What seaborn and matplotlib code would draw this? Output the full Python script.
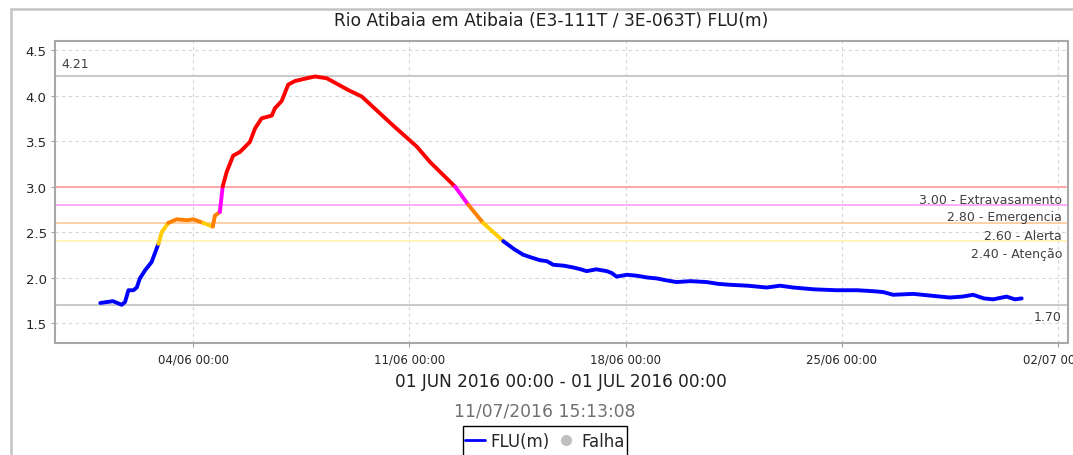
import matplotlib
matplotlib.use('Agg')
import matplotlib.pyplot as plt
import matplotlib.dates as mdates
from matplotlib.lines import Line2D
from matplotlib.patches import Rectangle
import pandas as pd
import seaborn as sns

START = pd.Timestamp('2016-06-01')

# days since 01/06 00:00 and river level FLU(m)
days = [0.00, 0.41, 0.69, 0.80, 0.91, 1.07, 1.18, 1.28, 1.45, 1.66, 1.88,
        1.99, 2.20, 2.47, 2.80, 3.01, 3.33, 3.64, 3.71, 3.87, 3.96, 4.09,
        4.30, 4.52, 4.84, 5.01, 5.22, 5.55, 5.65, 5.87, 6.08, 6.30, 6.68,
        6.95, 7.33, 8.03, 8.46, 9.48, 10.24, 10.67, 11.48, 11.91, 12.39,
        13.04, 13.40, 13.69, 13.95, 14.23, 14.45, 14.66, 15.00, 15.31, 15.55,
        15.74, 16.05, 16.39, 16.55, 16.71, 17.05, 17.36, 17.70,
        18.01, 18.30, 18.65, 19.10, 19.62, 20.00, 20.38, 20.95, 21.57, 22.00,
        22.43, 23.10, 23.83, 24.50, 25.00, 25.34, 25.66,
        26.31, 26.90, 27.49, 27.90, 28.25, 28.60, 28.90, 29.33, 29.60, 29.82]
flu = [1.72, 1.74, 1.70, 1.73, 1.86, 1.86, 1.89, 1.99, 2.08, 2.17, 2.37,
       2.50, 2.60, 2.64, 2.63, 2.64, 2.60, 2.56, 2.68, 2.72, 3.00, 3.16,
       3.34, 3.38, 3.49, 3.64, 3.75, 3.78, 3.86, 3.94, 4.12, 4.16, 4.19,
       4.21, 4.19, 4.06, 3.99, 3.67, 3.44, 3.27, 3.00, 2.80, 2.60,
       2.40, 2.31, 2.25, 2.22, 2.19, 2.18, 2.14, 2.13, 2.11, 2.09,
       2.07, 2.09, 2.07, 2.05, 2.01, 2.03, 2.02, 2.00,
       1.99, 1.97, 1.95, 1.96, 1.95, 1.93, 1.92, 1.91, 1.89, 1.91,
       1.89, 1.87, 1.86, 1.86, 1.85, 1.84, 1.81,
       1.82, 1.80, 1.78, 1.79, 1.81, 1.77, 1.76, 1.79, 1.76, 1.77]

thresholds = [3.00, 2.80, 2.60, 2.40]
threshold_names = ['Extravasamento', 'Emergencia', 'Alerta', 'Atenção']
threshold_line_colors = ['#ff9a9a', '#ff9cff', '#ffc89a', '#fff2b4']
level_colors = ['#ff0000', '#ff00ff', '#ff8000', '#ffcc00']
normal_color = '#0000ff'

peak_label = '4.21'
low_label = '1.70'


def level_color(v):
  for t, c in zip(thresholds, level_colors):
    if v >= t:
      return c
  return normal_color


df = pd.DataFrame({'time': START + pd.to_timedelta(days, unit='D'), 'flu': flu})

sns.set_style('white')
plt.rcParams['font.family'] = ['DejaVu Sans']

fig = plt.figure(figsize=(10.73, 4.56), dpi=100)
ax = fig.add_axes([55 / 1073, 1 - 344 / 456, 1013 / 1073, 302 / 456])

# outer frame of the chart panel
fig.patches.append(Rectangle((11 / 1073, -0.1), 1.2, 1.1 - 10 / 456, transform=fig.transFigure,
                             fill=False, edgecolor='#c4c4c4', linewidth=1.8))

# reference lines: max, min and alarm thresholds
ax.axhline(max(flu), color='#c0c0c0', lw=1.2, zorder=1)
ax.axhline(min(flu), color='#c0c0c0', lw=1.2, zorder=1)
for t, c in zip(thresholds, threshold_line_colors):
  ax.axhline(t, color=c, lw=1.2, zorder=1)

# colour each stretch of the series by the level it sits in
seg_colors = [level_color((a + b) / 2) for a, b in zip(flu[:-1], flu[1:])]
start = 0
for i in range(1, len(seg_colors) + 1):
  if i == len(seg_colors) or seg_colors[i] != seg_colors[start]:
    sns.lineplot(data=df.iloc[start:i + 1], x='time', y='flu', color=seg_colors[start],
                 lw=2.8, estimator=None, sort=False, ax=ax, zorder=3,
                 solid_capstyle='round', solid_joinstyle='round')
    start = i

# axis formatting
ax.set_xlim(START - pd.Timedelta(hours=35.2), START + pd.Timedelta(days=31.32))
ax.set_ylim(1.28, 4.60)
ax.set_xticks(pd.date_range('2016-06-04', periods=5, freq='7D'))
ax.xaxis.set_major_formatter(mdates.DateFormatter('%d/%m %H:%M'))
ax.set_yticks([1.5, 2.0, 2.5, 3.0, 3.5, 4.0, 4.5])
ax.yaxis.set_major_formatter(matplotlib.ticker.FormatStrFormatter('%.1f'))
ax.set_xlabel('')
ax.set_ylabel('')
ax.grid(True, linestyle=(0, (3, 3)), color='#d6d6d6', lw=0.8)
ax.tick_params(axis='y', labelsize=9.5, length=3, color='#a0a0a0', left=True, pad=3)
ax.tick_params(axis='x', labelsize=8.5, length=3, color='#a0a0a0', bottom=True, pad=4)
for s in ax.spines.values():
  s.set_color('#a8a8a8')
  s.set_linewidth(1.5)

# labels on the reference lines
tr = ax.get_yaxis_transform()
ax.text(0.006, 4.35, peak_label, transform=tr, ha='left', va='center', fontsize=9, color='#404040')
ax.text(0.994, 1.57, low_label, transform=tr, ha='right', va='center', fontsize=9, color='#404040')
for t, name, y in zip(thresholds, threshold_names, [2.857, 2.670, 2.462, 2.264]):
  ax.text(0.994, y, '{:.2f} - {}'.format(t, name), transform=tr, ha='right', va='center',
          fontsize=9, color='#404040')

# titles
fig.text(551 / 1073, 1 - 21 / 456, 'Rio Atibaia em Atibaia (E3-111T / 3E-063T) FLU(m)',
         ha='center', va='center', fontsize=12.3, color='#202020')
fig.text(561 / 1073, 1 - 382 / 456, '01 JUN 2016 00:00 - 01 JUL 2016 00:00',
         ha='center', va='center', fontsize=12.2, color='#202020')
fig.text(545 / 1073, 1 - 412 / 456, '11/07/2016 15:13:08',
         ha='center', va='center', fontsize=12.3, color='#707070')

# legend: box runs off the bottom of the image, as in the original
handles = [Line2D([], [], color=normal_color, lw=2),
           Line2D([], [], color='#c0c0c0', marker='o', ls='none', markersize=7)]
leg = fig.legend(handles, ['FLU(m)', 'Falha'], loc='upper center', bbox_to_anchor=(545 / 1073, 1 - 427 / 456),
                 ncol=2, fontsize=12, frameon=False, handlelength=1.2,
                 handletextpad=0.3, columnspacing=0.4, borderpad=0.35, borderaxespad=0)
fig.canvas.draw()
bb = leg.get_window_extent()
fig.patches.append(Rectangle((bb.x0 + 3, -20), bb.width - 6, bb.y1 + 20, transform=None,
                             fill=False, edgecolor='black', linewidth=1.0))

plt.savefig('out.png', dpi=100)
plt.close()
